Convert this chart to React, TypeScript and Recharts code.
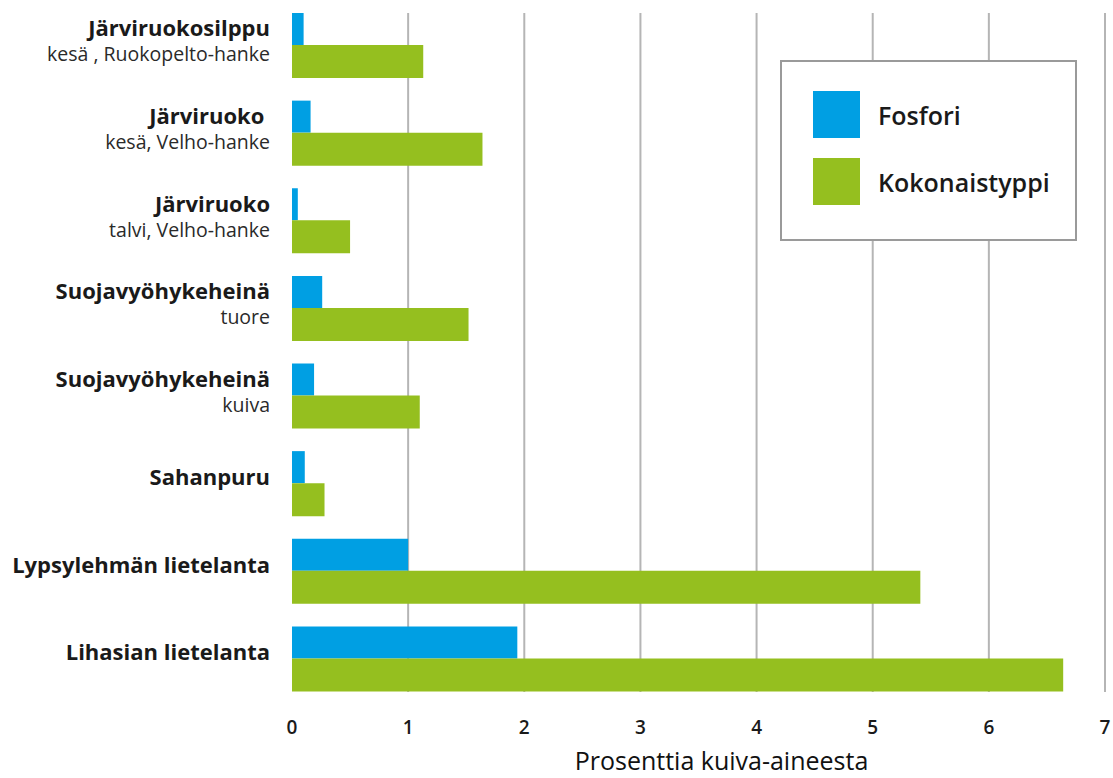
import React from "react";
import { BarChart, Bar, XAxis, YAxis, CartesianGrid, Label } from "recharts";

// Ravinnepitoisuudet, % kuiva-aineesta
const names = [
  "Järviruokosilppu",
  "Järviruoko ",
  "Järviruoko",
  "Suojavyöhykeheinä",
  "Suojavyöhykeheinä",
  "Sahanpuru",
  "Lypsylehmän lietelanta",
  "Lihasian lietelanta",
];
const subtitles = [
  "kesä , Ruokopelto-hanke",
  "kesä, Velho-hanke",
  "talvi, Velho-hanke",
  "tuore",
  "kuiva",
  "",
  "",
  "",
];
const fosfori = [0.1, 0.16, 0.05, 0.26, 0.19, 0.11, 1.0, 1.94];
const kokonaistyppi = [1.13, 1.64, 0.5, 1.52, 1.1, 0.28, 5.41, 6.64];
const xTicks = [0, 1, 2, 3, 4, 5, 6, 7];
const series = [
  { key: "fosfori", label: "Fosfori" },
  { key: "kokonaistyppi", label: "Kokonaistyppi" },
];

const BLUE = "#009FE3";
const GREEN = "#95BF1F";
const FONT = "'Open Sans', 'DejaVu Sans', sans-serif";

const data = names.map((n, i) => ({
  id: String(i),
  fosfori: fosfori[i],
  kokonaistyppi: kokonaistyppi[i],
}));

function CategoryTick(props: any) {
  const { x, y, payload } = props;
  const i = Number(payload.value);
  const sub = subtitles[i];
  return (
    <g>
      <text
        x={x}
        y={sub ? y - 9.5 : y + 1}
        textAnchor="end"
        fontFamily={FONT}
        fontWeight={700}
        fontSize={22}
        fill="#1a1a1a"
        style={{ whiteSpace: "pre" }}
      >
        {names[i]}
      </text>
      {sub && (
        <text x={x} y={y + 15.5} textAnchor="end" fontFamily={FONT} fontSize={19.5} fill="#2a2a2a">
          {sub}
        </text>
      )}
    </g>
  );
}

// pystysuorat apuviivat, ei viivaa nollan kohdalla
function GridLine(props: any) {
  const { x1, x2, y1, y2, index } = props;
  if (index === 0) return <g key={`g-${index}`} />;
  return (
    <line key={`g-${index}`} x1={x1} x2={x2} y1={y1 + 11} y2={y2 - 11} stroke="#b5b5b5" strokeWidth={2} />
  );
}

function LegendBox() {
  const colors = [BLUE, GREEN];
  return (
    <div
      style={{
        position: "absolute",
        left: 780,
        top: 60,
        width: 297,
        height: 181,
        boxSizing: "border-box",
        border: "2px solid #9a9a9a",
        background: "#fff",
        paddingTop: 29,
        paddingLeft: 31,
        fontFamily: FONT,
      }}
    >
      {series.map((s, k) => (
        <div key={s.key} style={{ display: "flex", alignItems: "center", height: 47, marginBottom: k === 0 ? 20 : 0 }}>
          <div style={{ width: 47, height: 47, background: colors[k] }} />
          <span style={{ marginLeft: 18, fontSize: 25, fontWeight: 600, color: "#1a1a1a" }}>{s.label}</span>
        </div>
      ))}
    </div>
  );
}

export default function App() {
  return (
    <div style={{ position: "absolute", left: 0, top: 0, width: 1113, height: 778, background: "#fff" }}>
      <BarChart
        width={1113}
        height={778}
        data={data}
        layout="vertical"
        margin={{ top: 2, right: 8, bottom: 0, left: 0 }}
        barGap={0}
      >
        <CartesianGrid horizontal={false} vertical={GridLine} />
        <XAxis
          type="number"
          domain={[0, 7]}
          ticks={xTicks}
          axisLine={false}
          tickLine={false}
          tickSize={0}
          tickMargin={18}
          height={75}
          tick={{ fontSize: 19, fill: "#1a1a1a", fontFamily: FONT, fontWeight: 600 }}
        >
          <Label
            content={(p: any) => {
              const vb = p.viewBox;
              return (
                <text
                  x={vb.x + vb.width / 2 + 23}
                  y={vb.y + 67}
                  textAnchor="middle"
                  fontFamily={FONT}
                  fontSize={25}
                  fontWeight={500}
                  fill="#111"
                >
                  Prosenttia kuiva-aineesta
                </text>
              );
            }}
          />
        </XAxis>
        <YAxis
          type="category"
          dataKey="id"
          width={292}
          axisLine={false}
          tickLine={false}
          tickSize={0}
          tickMargin={22}
          tick={<CategoryTick />}
          interval={0}
        />
        <Bar dataKey="fosfori" name="Fosfori" fill={BLUE} barSize={32} isAnimationActive={false} />
        <Bar dataKey="kokonaistyppi" name="Kokonaistyppi" fill={GREEN} barSize={33} isAnimationActive={false} />
      </BarChart>
      <LegendBox />
    </div>
  );
}
